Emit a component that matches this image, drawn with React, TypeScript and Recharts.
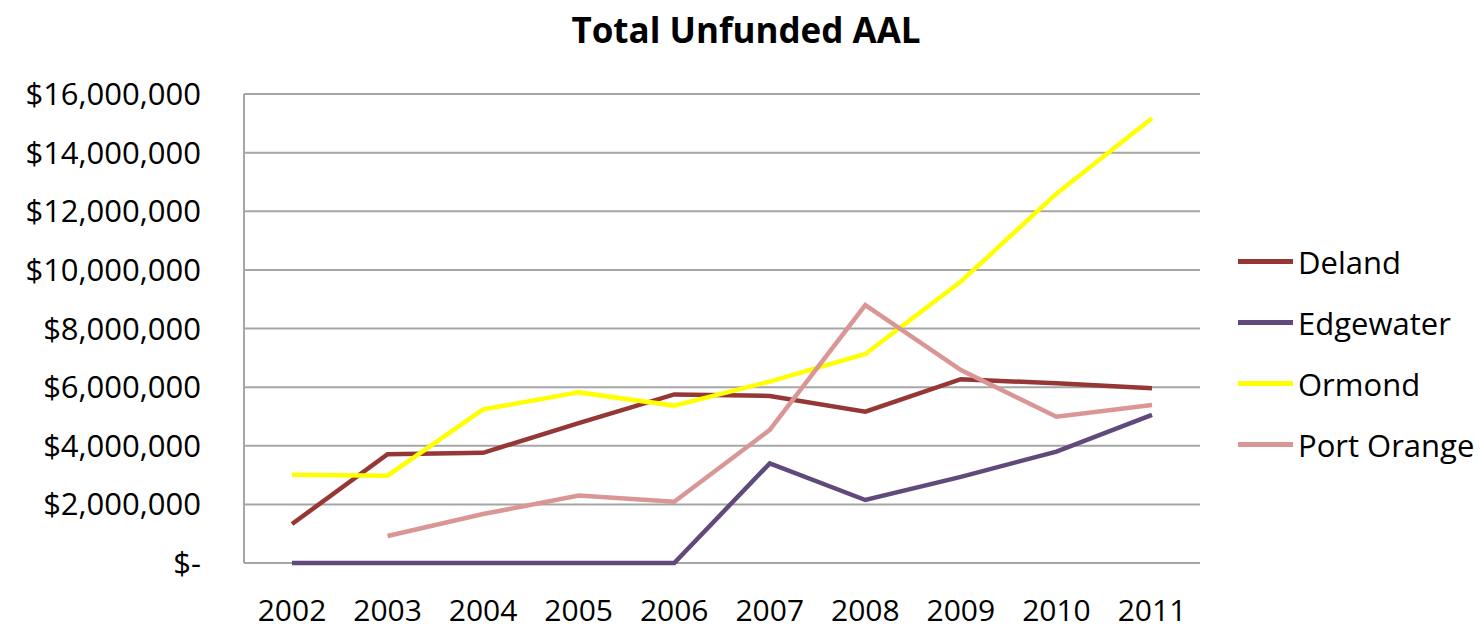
import { LineChart, Line, XAxis, YAxis, CartesianGrid, Legend } from 'recharts'

const years = ['2002', '2003', '2004', '2005', '2006', '2007', '2008', '2009', '2010', '2011']
const deland = [1330000, 3710000, 3760000, 4770000, 5750000, 5700000, 5160000, 6270000, 6130000, 5960000]
const edgewater = [0, 0, 0, 0, 0, 3400000, 2150000, 2940000, 3800000, 5050000]
const ormond = [3010000, 2980000, 5240000, 5820000, 5370000, 6190000, 7130000, 9600000, 12600000, 15170000]
const portOrange = [null, 920000, 1670000, 2300000, 2090000, 4540000, 8800000, 6580000, 4990000, 5390000]
const yTicks = [0, 2000000, 4000000, 6000000, 8000000, 10000000, 12000000, 14000000, 16000000]

const series = [
  { key: 'Deland', color: '#953735' },
  { key: 'Edgewater', color: '#604a7b' },
  { key: 'Ormond', color: '#ffff00' },
  { key: 'Port Orange', color: '#d99694' },
]

const data = years.map((year, i) => ({
  year,
  Deland: deland[i],
  Edgewater: edgewater[i],
  Ormond: ormond[i],
  'Port Orange': portOrange[i],
}))

const font = '"Open Sans", sans-serif'

const fmtMoney = (v: number) => (v === 0 ? '$-' : '$' + v.toLocaleString('en-US'))

const LegendBox = () => (
  <div style={{ fontFamily: font, fontSize: 31, color: '#000' }}>
    {series.map((s) => (
      <div key={s.key} style={{ display: 'flex', alignItems: 'center', height: 61 }}>
        <span style={{ display: 'inline-block', width: 55, height: 5, background: s.color, marginRight: 5 }} />
        <span>{s.key}</span>
      </div>
    ))}
  </div>
)

export default function App() {
  return (
    <div style={{ position: 'absolute', left: 0, top: 0, width: 1481, height: 629, background: '#fff' }}>
      <div
        style={{
          position: 'absolute',
          left: 0,
          width: 1492,
          top: 7,
          textAlign: 'center',
          fontFamily: font,
          fontWeight: 700,
          fontSize: 35,
          lineHeight: '46px',
          color: '#000',
        }}
      >
        Total Unfunded AAL
      </div>
      <LineChart width={1481} height={629} data={data} margin={{ top: 94, right: 38, left: 0, bottom: 0 }}>
        <CartesianGrid vertical={false} stroke="#a6a6a6" strokeWidth={2} />
        <XAxis
          dataKey="year"
          height={66}
          padding={{ left: 48, right: 48 }}
          axisLine={false}
          tickLine={false}
          tickSize={0}
          tickMargin={37}
          tick={{ fill: '#000', fontSize: 30, fontFamily: font }}
        />
        <YAxis
          width={244}
          domain={[0, 16000000]}
          ticks={yTicks}
          interval={0}
          tickFormatter={fmtMoney}
          axisLine={{ stroke: '#a6a6a6', strokeWidth: 2 }}
          tickLine={false}
          tickSize={0}
          tickMargin={43}
          tick={{ fill: '#000', fontSize: 31, fontFamily: font }}
        />
        <Legend
          layout="vertical"
          align="right"
          verticalAlign="middle"
          content={<LegendBox />}
          wrapperStyle={{ left: 1238, top: 231, width: 243 }}
        />
        {series.map((s) => (
          <Line
            key={s.key}
            dataKey={s.key}
            stroke={s.color}
            strokeWidth={4.5}
            dot={false}
            activeDot={false}
            type="linear"
            isAnimationActive={false}
          />
        ))}
      </LineChart>
    </div>
  )
}
